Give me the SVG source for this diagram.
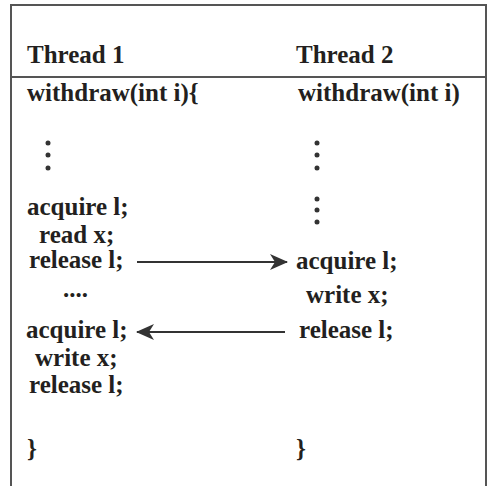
<svg xmlns="http://www.w3.org/2000/svg" width="492" height="486" viewBox="0 0 492 486">
<style>
.t{font-family:"Liberation Serif","Times New Roman",serif;font-weight:bold;font-size:25px;fill:#231f20}
.frame{stroke:#555;stroke-width:2;fill:none}
.dot{fill:#333}
.conn{stroke:#333;stroke-width:2;fill:none}
</style>
<defs>
<marker id="ah" markerWidth="18" markerHeight="16" refX="17" refY="8" orient="auto" markerUnits="userSpaceOnUse">
<path d="M0,0 L18,8 L0,16 L5,8 Z" fill="#333"/>
</marker>
</defs>
<rect width="492" height="486" fill="#fff"/>
<g id="frame">
<path class="frame" d="M11,486 V5 H486 V486"/>
<line class="frame" x1="11" y1="77" x2="486" y2="77"/>
</g>
<g id="thread1">
<text class="t" x="27" y="63">Thread 1</text>
<text class="t" x="27" y="101">withdraw(int i){</text>
<circle class="dot" cx="48" cy="143" r="2.5"/>
<circle class="dot" cx="48" cy="155" r="2.5"/>
<circle class="dot" cx="48" cy="168" r="2.5"/>
<text class="t" x="27" y="215">acquire l;</text>
<text class="t" x="39" y="243">read x;</text>
<text class="t" x="29" y="268">release l;</text>
<text class="t" x="63" y="297">....</text>
<text class="t" x="26" y="338">acquire l;</text>
<text class="t" x="35" y="366">write x;</text>
<text class="t" x="29" y="393">release l;</text>
<text class="t" x="27" y="457">}</text>
</g>
<g id="thread2">
<text class="t" x="296" y="63">Thread 2</text>
<text class="t" x="298" y="101">withdraw(int i)</text>
<circle class="dot" cx="317" cy="143" r="2.5"/>
<circle class="dot" cx="317" cy="155" r="2.5"/>
<circle class="dot" cx="317" cy="168" r="2.5"/>
<circle class="dot" cx="317" cy="199" r="2.5"/>
<circle class="dot" cx="317" cy="210" r="2.5"/>
<circle class="dot" cx="317" cy="222" r="2.5"/>
<text class="t" x="296" y="269">acquire l;</text>
<text class="t" x="306" y="303">write x;</text>
<text class="t" x="299" y="338">release l;</text>
<text class="t" x="296" y="457">}</text>
</g>
<g id="connectors">
<line class="conn" x1="137" y1="262" x2="287" y2="262" marker-end="url(#ah)"/>
<line class="conn" x1="285" y1="332" x2="137" y2="332" marker-end="url(#ah)"/>
</g>
</svg>
